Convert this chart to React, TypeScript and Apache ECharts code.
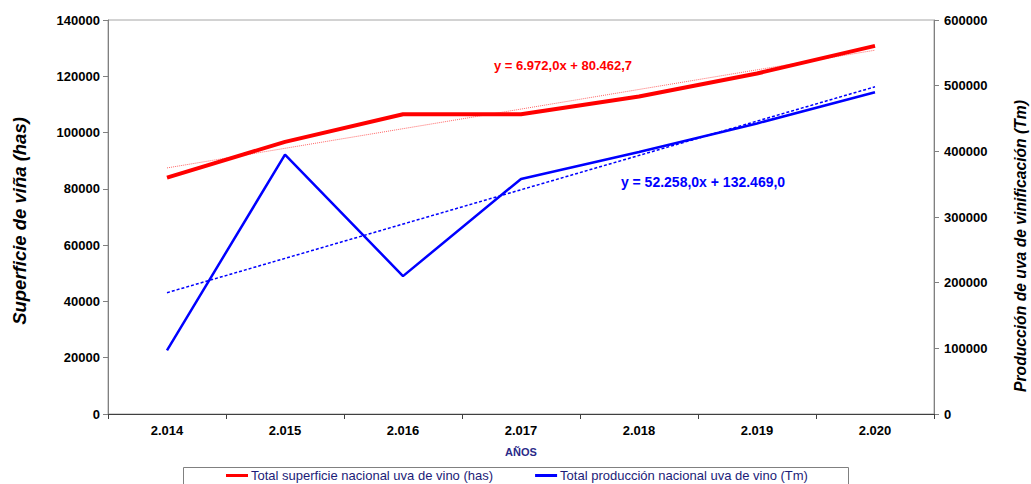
import React, { useEffect, useRef } from "react";
import * as echarts from "echarts";

const years = ["2.014", "2.015", "2.016", "2.017", "2.018", "2.019", "2.020"];
const superficie = [84000, 96700, 106500, 106500, 112800, 121000, 130800];
const produccion = [97000, 395000, 210000, 358000, 399000, 442500, 490000];
// trend line end values (from the displayed equations at x=1 and x=7)
const superficieTrend = [87434.7, 129266.7];
const produccionTrend = [184727.0, 498275.0];
const leftTicks = { min: 0, max: 140000, interval: 20000 };
const rightTicks = { min: 0, max: 600000, interval: 100000 };
const seriesNames = [
  "Total superficie nacional uva de vino (has)",
  "Total producción nacional uva de vino (Tm)",
];
const eqRed = "y = 6.972,0x + 80.462,7";
const eqBlue = "y = 52.258,0x + 132.469,0";

const FONT = "'Liberation Sans', Arial, Helvetica, sans-serif";

export default function App() {
  const ref = useRef<HTMLDivElement>(null);
  useEffect(() => {
    if (!ref.current) return;
    const chart = echarts.init(ref.current, undefined, { renderer: "svg" });
    const axisLabelStyle = {
      fontFamily: FONT,
      fontSize: 13,
      fontWeight: "bold" as const,
      color: "#000",
    };
    const plain = (v: number) => String(v);
    chart.setOption({
      animation: false,
      backgroundColor: "#fff",
      textStyle: { fontFamily: FONT },
      grid: {
        left: 108,
        right: 97,
        top: 20,
        bottom: 70,
        show: true,
        borderColor: "#a6a6a6",
        borderWidth: 1,
      },
      legend: {
        left: 226,
        top: 469,
        itemGap: 42,
        itemWidth: 22,
        itemHeight: 3,
        icon: "rect",
        padding: 0,
        textStyle: { fontFamily: FONT, fontSize: 13, color: "#1c1c78", padding: [0, 0, 0, -2] },
        data: seriesNames,
      },
      xAxis: {
        type: "category",
        data: years,
        boundaryGap: true,
        axisLine: { lineStyle: { color: "#404040", width: 1 } },
        axisTick: { show: true, length: 5, lineStyle: { color: "#404040" } },
        axisLabel: { ...axisLabelStyle, margin: 10 },
        splitLine: { show: false },
      },
      yAxis: [
        {
          type: "value",
          position: "left",
          ...leftTicks,
          axisLine: { show: true, lineStyle: { color: "#808080" } },
          axisTick: { show: true, length: 5, lineStyle: { color: "#808080" } },
          axisLabel: { ...axisLabelStyle, margin: 8, formatter: plain },
          splitLine: { show: false },
        },
        {
          type: "value",
          position: "right",
          ...rightTicks,
          axisLine: { show: true, lineStyle: { color: "#808080" } },
          axisTick: { show: true, length: 5, lineStyle: { color: "#808080" } },
          axisLabel: { ...axisLabelStyle, margin: 10, formatter: plain },
          splitLine: { show: false },
        },
      ],
      series: [
        {
          name: seriesNames[0],
          type: "line",
          data: superficie,
          yAxisIndex: 0,
          symbol: "none",
          color: "#ff0000",
          lineStyle: { color: "#ff0000", width: 4 },
          z: 3,
          markLine: {
            silent: true,
            symbol: "none",
            label: { show: false },
            lineStyle: { color: "#ff0000", width: 1, type: [1, 1], opacity: 0.6 },
            data: [
              [
                { coord: [years[0], superficieTrend[0]] },
                { coord: [years[years.length - 1], superficieTrend[1]] },
              ],
            ],
          },
        },
        {
          name: seriesNames[1],
          type: "line",
          data: produccion,
          yAxisIndex: 1,
          symbol: "none",
          color: "#0000ff",
          lineStyle: { color: "#0000ff", width: 2.5 },
          z: 3,
          markLine: {
            silent: true,
            symbol: "none",
            label: { show: false },
            lineStyle: { color: "#0000ff", width: 1.5, type: [3, 2] },
            data: [
              [
                { coord: [years[0], produccionTrend[0]] },
                { coord: [years[years.length - 1], produccionTrend[1]] },
              ],
            ],
          },
        },
      ],
      graphic: [
        {
          type: "text",
          x: 19,
          y: 221,
          rotation: Math.PI / 2,
          style: {
            text: "Superficie de viña (has)",
            font: `italic bold 18.5px ${FONT}`,
            fill: "#000",
            textAlign: "center",
            textVerticalAlign: "middle",
          },
        },
        {
          type: "text",
          x: 1020,
          y: 246,
          rotation: Math.PI / 2,
          style: {
            text: "Producción de uva de vinificación (Tm)",
            font: `italic bold 15.7px ${FONT}`,
            fill: "#000",
            textAlign: "center",
            textVerticalAlign: "middle",
          },
        },
        {
          type: "text",
          x: 521,
          y: 452,
          style: {
            text: "AÑOS",
            font: `bold 11px ${FONT}`,
            fill: "#2a2a88",
            textAlign: "center",
            textVerticalAlign: "middle",
          },
        },
        {
          type: "text",
          x: 563,
          y: 65,
          style: {
            text: eqRed,
            font: `bold 13px ${FONT}`,
            fill: "#ff0000",
            textAlign: "center",
            textVerticalAlign: "middle",
          },
        },
        {
          type: "text",
          x: 703,
          y: 182,
          style: {
            text: eqBlue,
            font: `bold 14px ${FONT}`,
            fill: "#0000ff",
            textAlign: "center",
            textVerticalAlign: "middle",
          },
        },
        {
          type: "rect",
          shape: { x: 183.5, y: 467.5, width: 665, height: 30 },
          style: { fill: "none", stroke: "#808080", lineWidth: 1 },
          silent: true,
        },
      ],
    });
    return () => chart.dispose();
  }, []);
  return <div ref={ref} style={{ width: 1031, height: 484, position: "absolute", left: 0, top: 0 }} />;
}
